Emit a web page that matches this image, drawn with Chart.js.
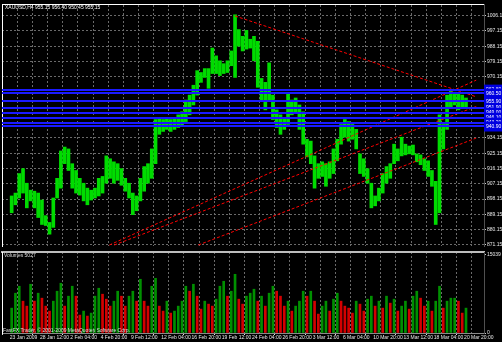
<!DOCTYPE html>
<html><head><meta charset="utf-8">
<script src="https://cdn.jsdelivr.net/npm/chart.js@4.4.0/dist/chart.umd.min.js"></script>
<style>
html,body{margin:0;padding:0;background:#000;width:502px;height:342px;overflow:hidden;}
#wrap{position:relative;width:502px;height:342px;background:#000;}
#pc,#oc{position:absolute;left:0;top:0;}
#vc{position:absolute;left:0;top:248px;}
.t{position:absolute;font-family:'Liberation Sans',Arial,sans-serif;font-size:5px;color:#fff;white-space:nowrap;line-height:6px;z-index:5;}
</style></head><body>
<div id="wrap">
<canvas id="pc" width="502" height="250"></canvas>
<canvas id="oc" width="502" height="250"></canvas>
<canvas id="vc" width="502" height="94"></canvas>
<div class="t" style="left:5px;top:4px">XAUUSD,H4 955.15 956.40 950.45 955.15</div>
<div class="t" style="left:4px;top:252px;color:#ddd">Volumes 5027</div>
<div class="t" style="left:3px;top:327px;color:#ddd">FastFX Trader, © 2001-2009 MetaQuotes Software Corp.</div>
</div>
<script>
// ---- data ----
const timeLabels = ["23 Jan 2009","28 Jan 12:00","2 Feb 04:00","4 Feb 20:00","9 Feb 12:00","12 Feb 04:00","16 Feb 20:00","19 Feb 12:00","24 Feb 04:00","26 Feb 20:00","3 Mar 12:00","6 Mar 04:00","10 Mar 20:00","13 Mar 12:00","18 Mar 04:00","20 Mar 20:00"];
const priceTicks = [871.15,880.15,889.15,898.15,907.15,916.15,925.15,934.15,943.15,952.15,961.15,970.15,979.15,988.15,997.15,1006.15];
const blueLevels = [962.8,960.5,955.9,951.9,949.0,946.1,943.2,940.9];
const volTicks = [0,15039];
const highs = [
900.0,901.7,913.2,916.1,907.5,903.4,902.8,901.7,897.6,888.4,
884.4,898.8,910.4,926.5,928.8,927.7,919.0,915.0,910.4,907.5,
904.6,903.4,904.6,910.4,911.5,923.6,921.9,920.1,919.0,916.1,
910.4,907.5,901.7,900.0,910.4,917.3,919.0,927.7,945.0,946.1,
945.0,946.1,945.0,946.1,947.8,949.6,956.5,959.4,965.2,973.8,
972.7,975.0,975.0,987.1,982.5,979.6,977.9,979.6,985.4,1006.7,
998.0,994.0,997.5,992.3,994.0,991.1,969.2,966.9,978.4,959.4,
950.7,947.8,946.1,960.5,956.5,957.7,953.6,949.6,933.4,932.3,
923.6,919.0,920.1,919.0,920.1,927.7,933.4,942.1,945.0,943.8,
942.1,939.2,924.8,921.9,916.1,907.5,900.0,904.6,913.2,917.3,
919.0,930.5,927.7,934.6,930.5,929.4,930.0,924.8,924.2,921.9,
920.7,915.0,908.6,947.8,942.1,959.4,962.3,961.1,960.5,959.4,
957.7];
const lows = [
890.1,894.8,898.8,901.7,893.0,897.1,893.0,887.3,883.2,882.6,
877.5,881.5,898.8,904.6,919.0,915.0,904.6,901.7,900.5,897.1,
894.8,897.6,898.8,900.0,901.7,907.5,910.4,907.5,909.2,906.3,
902.8,898.8,889.0,891.3,897.1,902.8,907.5,910.4,919.0,936.3,
938.0,939.2,938.0,939.2,940.3,940.9,943.8,947.8,953.6,959.4,
966.9,969.8,963.4,972.1,972.1,970.9,972.1,972.7,976.7,969.8,
988.2,985.4,986.5,987.1,979.6,964.0,956.5,950.7,956.5,945.0,
940.3,936.3,939.2,942.1,947.8,949.6,939.2,930.5,923.0,919.0,
904.6,910.4,911.5,905.7,910.4,913.2,920.7,930.5,934.6,932.3,
933.4,927.7,913.2,911.5,907.5,893.0,894.2,897.1,901.7,907.5,
910.4,919.0,920.7,923.6,924.2,924.8,924.2,920.1,918.4,915.0,
911.5,905.7,883.2,890.1,927.7,939.2,951.9,953.6,950.7,952.5,
951.9];
const volumes = [
4760,7616,8949,6093,5141,9330,6093,7616,6664,5141,
4189,6093,7997,9520,5141,7045,8949,7045,3427,4189,
3237,3808,7045,8568,7426,6474,5141,6093,7997,7045,
5141,7045,7997,6093,10282,6093,5141,8949,10472,5141,
4189,6093,3808,4189,5141,6093,8949,7997,9330,7045,
4570,6093,5522,5141,6474,8949,9901,7045,7997,11234,
6474,5522,7045,7616,8378,6093,7045,5141,7616,8949,
7997,7045,5141,6093,4189,5141,6093,7997,7045,7997,
6093,3618,5141,6093,4189,6474,7616,6093,5141,4760,
3808,6093,5522,4189,6474,7045,5141,6093,4760,7045,
5712,6474,4189,5141,6093,4570,7045,7997,6664,5141,
6093,4189,6093,8949,4760,6093,6664,6664,6093,3808,
4760];
const trendA = [{x:59.5,y:1006.0},{x:123.2,y:958.4}];
const trendB = [{x:26.3,y:871.1},{x:123.2,y:968.2}];
const trendC = [{x:27.6,y:871.1},{x:123.2,y:952.7}];
const trendD = [{x:49.8,y:871.1},{x:123.2,y:934.1}];

// ---- layout / style ----
const XMAX = 123.2, YMIN = 870.53, YMAX = 1013.05;
const FONT = {family:"'Liberation Sans', Arial, sans-serif", size:5};
const gridTicks = [];
timeLabels.forEach((_, k) => { gridTicks.push(k*8); if (k < timeLabels.length-1) gridTicks.push(k*8+4); });
const GRID = '#6a6a6a';
const AXW = 18;

function trend(d){ return {type:'line', data:d, borderColor:'#ff0000', borderWidth:1, borderDash:[3,2], pointRadius:0, fill:false, xAxisID:'x', yAxisID:'y', order:1}; }

// price pane
new Chart(document.getElementById('pc'), {
  type:'bar',
  data:{datasets:[
    {type:'bar', data: highs.map((h,i)=>({x:i+0.5, y:[lows[i], h]})), backgroundColor:'#00dc00', barThickness:3, borderWidth:0, borderSkipped:false, xAxisID:'x', yAxisID:'y', order:2},
    trend(trendA), trend(trendB), trend(trendC), trend(trendD)
  ]},
  options:{
    responsive:false, animation:false, events:[],
    layout:{padding:{left:2, top:2, right:0, bottom:1}},
    plugins:{legend:{display:false}, tooltip:{enabled:false}},
    scales:{
      x:{type:'linear', position:'top', min:0, max:XMAX,
         afterBuildTicks:s=>{s.ticks = gridTicks.map(v=>({value:v}));},
         afterFit:s=>{s.height=0;},
         ticks:{display:false}, grid:{color:GRID, drawTicks:false},
         border:{display:true, color:'#ffffff', width:1, dash:[2,2]}},
      yl:{type:'linear', position:'left', afterFit:s=>{s.width=0;}, ticks:{display:false}, grid:{display:false}, border:{display:true, color:'#ffffff', width:1}},
      y:{type:'linear', position:'right', min:YMIN, max:YMAX,
         afterBuildTicks:s=>{s.ticks = priceTicks.map(v=>({value:v}));},
         afterFit:s=>{s.width=AXW;},
         grid:{color:GRID, drawTicks:true, tickLength:2, tickColor:'#cccccc'},
         border:{display:true, color:'#505050', dash:[2,2]},
         ticks:{color:'#e6e6e6', font:FONT, padding:1, autoSkip:false, callback:v=>v.toFixed(2)}}
    }
  }
});

// horizontal blue price levels with their axis labels (foreground objects)
new Chart(document.getElementById('oc'), {
  type:'bar',
  data:{datasets:[]},
  options:{
    responsive:false, animation:false, events:[],
    layout:{padding:{left:2, top:2, right:0, bottom:1}},
    plugins:{legend:{display:false}, tooltip:{enabled:false}},
    scales:{
      x:{type:'linear', display:false, min:0, max:XMAX},
      yb:{type:'linear', position:'right', min:YMIN, max:YMAX,
         afterBuildTicks:s=>{s.ticks = blueLevels.map(v=>({value:v}));},
         afterFit:s=>{s.width=AXW;},
         grid:{color:'#1a1aff', lineWidth:2, drawTicks:false}, border:{display:false},
         ticks:{color:'#ffffff', font:FONT, padding:2, autoSkip:false, showLabelBackdrop:true, backdropColor:'#0000e0', backdropPadding:{left:2,right:6,top:2,bottom:2}, callback:v=>v.toFixed(2)}}
    }
  }
});

// volume pane
new Chart(document.getElementById('vc'), {
  type:'bar',
  data:{datasets:[
    {data: volumes.map((v,i)=>({x:i+0.5, y:v})),
     backgroundColor: volumes.map((v,i)=> (i===0 || v>=volumes[i-1]) ? '#009000' : '#d40000'),
     barThickness:2, borderWidth:0, xAxisID:'x', yAxisID:'y'}
  ]},
  options:{
    responsive:false, animation:false, events:[],
    layout:{padding:{left:2, top:2, right:0, bottom:0}},
    plugins:{legend:{display:false}, tooltip:{enabled:false}},
    scales:{
      x:{type:'linear', position:'bottom', min:0, max:XMAX,
         afterBuildTicks:s=>{s.ticks = gridTicks.map(v=>({value:v}));},
         afterFit:s=>{s.height=9;},
         grid:{color:GRID, drawTicks:true, tickLength:2, tickColor:c=> (c.tick && c.tick.value%8===0) ? '#dddddd' : 'rgba(0,0,0,0)'},
         border:{display:true, color:'#8a8a8a', dash:[2,2]},
         ticks:{align:'start', autoSkip:false, maxRotation:0, minRotation:0, padding:0, color:'#e6e6e6', font:FONT,
                callback:v=> (v%8===0) ? timeLabels[v/8] : ''}},
      xt:{type:'linear', position:'top', min:0, max:XMAX, afterFit:s=>{s.height=0;}, ticks:{display:false}, grid:{display:false}, border:{display:true, color:'#bdbdbd', width:2}},
      yl:{type:'linear', position:'left', afterFit:s=>{s.width=0;}, ticks:{display:false}, grid:{display:false}, border:{display:true, color:'#ffffff', width:1}},
      y:{type:'linear', position:'right', min:0, max:15500,
         afterBuildTicks:s=>{s.ticks = volTicks.map(v=>({value:v}));},
         afterFit:s=>{s.width=AXW;},
         grid:{drawOnChartArea:false, drawTicks:true, tickLength:2, color:'#cccccc'},
         border:{display:true, color:'#505050'},
         ticks:{color:'#e6e6e6', font:FONT, padding:1, autoSkip:false, callback:v=>String(v)}}
    }
  }
});
</script>
</body></html>
